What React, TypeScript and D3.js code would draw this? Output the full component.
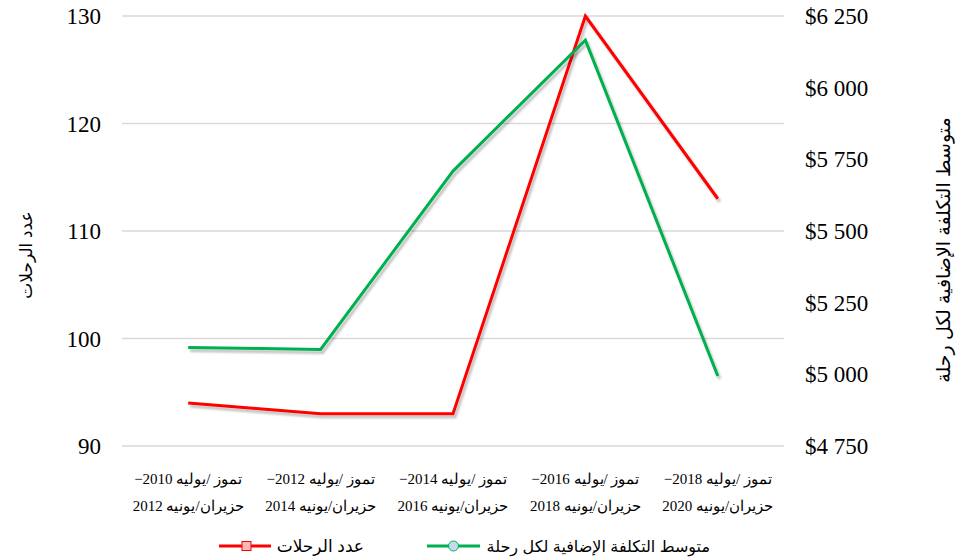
import React from 'react';
import * as d3 from 'd3';

const categoryLine1 = ['تموز /يوليه 2010−', 'تموز /يوليه 2012−', 'تموز /يوليه 2014−', 'تموز /يوليه 2016−', 'تموز /يوليه 2018−'];
const categoryLine2 = ['حزيران/يونيه 2012', 'حزيران/يونيه 2014', 'حزيران/يونيه 2016', 'حزيران/يونيه 2018', 'حزيران/يونيه 2020'];
const trips = [94, 93, 93, 130, 113];
const costs = [5094, 5087, 5709, 6166, 4994];
const leftTicks = [90, 100, 110, 120, 130];
const rightTicks = [4750, 5000, 5250, 5500, 5750, 6000, 6250];
const leftTitle = 'عدد الرحلات';
const rightTitle = 'متوسط التكلفة الإضافية لكل رحلة';
const legendTrips = 'عدد الرحلات';
const legendCosts = 'متوسط التكلفة الإضافية لكل رحلة';

const W = 961, H = 560;
const L = 122, R = 784, T = 16, B = 446;
const RED = '#FF0000';
const GREEN = '#00B050';
const SERIF = '"Liberation Serif", "Times New Roman", serif';
const SANS = '"Liberation Sans", Arial, "DejaVu Sans", sans-serif';

export default function App() {
  const idx = categoryLine1.map((_, i) => i);
  const x = d3.scaleBand<number>().domain(idx).range([L, R]);
  const cx = (i: number) => (x(i) as number) + x.bandwidth() / 2;
  const yL = d3.scaleLinear().domain([90, 130]).range([B, T]);
  const yR = d3.scaleLinear().domain([4750, 6250]).range([B, T]);
  const lineTrips = d3.line<number>().x((_, i) => cx(i)).y(d => yL(d));
  const lineCosts = d3.line<number>().x((_, i) => cx(i)).y(d => yR(d));
  const fmt = (v: number) => '$' + d3.format(',')(v).replace(',', ' ');

  return (
    <svg width={W} height={H} style={{ position: 'absolute', left: 0, top: 0, background: '#fff' }}>
      <defs>
        <filter id="sh" x="-10%" y="-10%" width="130%" height="130%">
          <feDropShadow dx="2" dy="3" stdDeviation="1.3" floodColor="#000" floodOpacity="0.25" />
        </filter>
      </defs>
      <rect width={W} height={H} fill="#fff" />
      {leftTicks.map(t => (
        <line key={t} x1={L} x2={R} y1={yL(t)} y2={yL(t)} stroke="#d9d9d9" strokeWidth={1.3} />
      ))}
      {leftTicks.map(t => (
        <text key={t} x={101} y={yL(t)} dy="0.35em" textAnchor="end" fontFamily={SERIF} fontSize={23} fill="#000">{t}</text>
      ))}
      {rightTicks.map(t => (
        <text key={t} x={805} y={yR(t)} dy="0.35em" textAnchor="start" fontFamily={SERIF} fontSize={23} fill="#000">{fmt(t)}</text>
      ))}
      {idx.map(i => (
        <g key={i}>
          <text x={cx(i)} y={484} textAnchor="middle" direction="rtl" fontFamily={SERIF} fontSize={15} fill="#000">{categoryLine1[i]}</text>
          <text x={cx(i)} y={511} textAnchor="middle" direction="rtl" fontFamily={SERIF} fontSize={15} fill="#000">{categoryLine2[i]}</text>
        </g>
      ))}
      <path d={lineTrips(trips) as string} fill="none" stroke={RED} strokeWidth={3} strokeLinejoin="miter" filter="url(#sh)" />
      <path d={lineCosts(costs) as string} fill="none" stroke={GREEN} strokeWidth={3} strokeLinejoin="miter" filter="url(#sh)" />
      <text transform={`translate(26,255) rotate(-90)`} textAnchor="middle" dy="0.35em" direction="rtl" fontFamily={SANS} fontSize={17} fill="#000">{leftTitle}</text>
      <text transform={`translate(943,250) rotate(-90)`} textAnchor="middle" dy="0.35em" direction="rtl" fontFamily={SANS} fontSize={19} fill="#000">{rightTitle}</text>
      <g>
        <line x1={219} x2={271} y1={546} y2={546} stroke={RED} strokeWidth={3} />
        <rect x={242} y={541.5} width={9} height={9} fill="#F8B9B9" stroke={RED} strokeWidth={1} />
        <text x={364} y={546} dy="0.35em" textAnchor="start" direction="rtl" fontFamily={SANS} fontSize={17} fill="#000">{legendTrips}</text>
        <line x1={427} x2={480} y1={546} y2={546} stroke={GREEN} strokeWidth={3} />
        <circle cx={453.5} cy={546} r={5} fill="#C6D9F1" stroke={GREEN} strokeWidth={1} />
        <text x={710} y={546} dy="0.35em" textAnchor="start" direction="rtl" fontFamily={SANS} fontSize={16} fill="#000">{legendCosts}</text>
      </g>
    </svg>
  );
}
